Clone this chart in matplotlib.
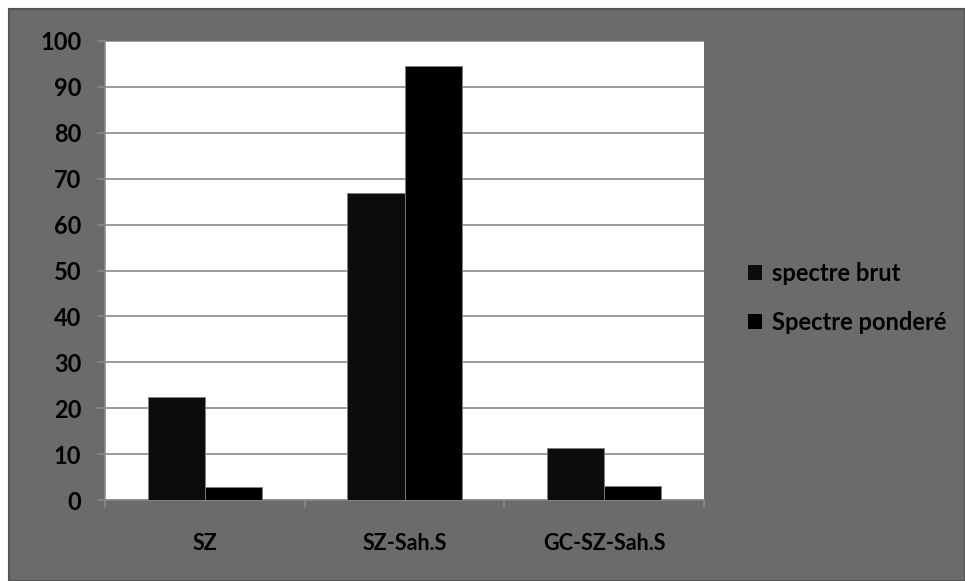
import matplotlib.pyplot as plt
from matplotlib.patches import Rectangle
import numpy as np

categories = ['SZ', 'SZ-Sah.S', 'GC-SZ-Sah.S']
spectre_brut = [22.4, 66.8, 11.3]
spectre_pondere = [2.8, 94.5, 3.1]
series_labels = ['spectre brut', 'Spectre ponderé']

plt.rcParams['font.family'] = ['Lato', 'DejaVu Sans']
plt.rcParams['font.weight'] = 'bold'

W, H = 965, 581
fig = plt.figure(figsize=(W / 100, H / 100), dpi=100, facecolor='white')

# gray chart panel, behind the axes
fig.patches.append(Rectangle((9 / W, 0), 1 - 9 / W, 1 - 9 / H, transform=fig.transFigure,
                             facecolor='#6b6b6b', edgecolor='#555555', linewidth=1.5, zorder=-5))

ax = fig.add_axes([105 / W, 1 - 500 / H, (704 - 105) / W, (500 - 41) / H])
ax.set_facecolor('white')

x = np.arange(len(categories))
bw = 0.286
ax.bar(x - bw / 2, spectre_brut, bw, color='#0c0c0c', edgecolor='#808080', linewidth=0.6,
       label=series_labels[0], zorder=3)
ax.bar(x + bw / 2, spectre_pondere, bw, color='#000000', edgecolor='#808080', linewidth=0.6,
       label=series_labels[1], zorder=3)

ax.set_xlim(-0.5, 2.5)
ax.set_ylim(0, 100)
ax.set_yticks(range(0, 101, 10))
ax.yaxis.grid(True, color='#8a8a8a', linewidth=1.2, zorder=1)
ax.set_axisbelow(True)

# category labels centred, ticks on category boundaries
ax.set_xticks([-0.5, 0.5, 1.5, 2.5])
ax.set_xticklabels([])
ax.set_xticks(x, minor=True)
ax.set_xticklabels(categories, minor=True, fontsize=15.5, fontweight='bold')
ax.tick_params(axis='x', which='major', length=6, color='#8a8a8a', width=1.2)
ax.tick_params(axis='x', which='minor', length=0, pad=24)
ax.tick_params(axis='y', length=6, color='#8a8a8a', width=1.2, labelsize=17, pad=11)
for lbl in ax.get_yticklabels():
    lbl.set_fontweight('bold')

for side in ['top', 'right']:
    ax.spines[side].set_visible(False)
ax.spines['left'].set_color('#8a8a8a')
ax.spines['bottom'].set_color('#8a8a8a')
ax.spines['left'].set_linewidth(1.2)
ax.spines['bottom'].set_linewidth(1.2)

leg = fig.legend(loc='center left', bbox_to_anchor=(727 / W, 1 - 298 / H), frameon=False,
                 handlelength=0.6, handleheight=0.6, handletextpad=0.4,
                 labelspacing=1.08, prop={'weight': 'bold', 'size': 17})
for h in leg.legend_handles:
    h.set_edgecolor('none')

fig.savefig('out.png', dpi=100, facecolor='white')
